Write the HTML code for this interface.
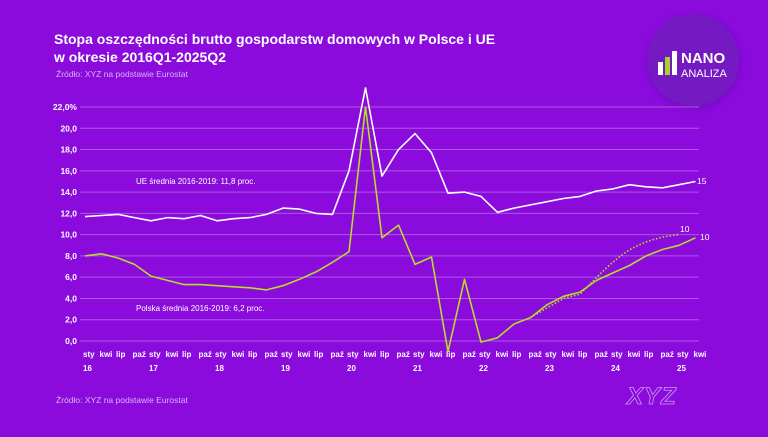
<!DOCTYPE html>
<html><head><meta charset="utf-8"><style>
html,body{margin:0;padding:0;background:#8a0bdc;}
body{width:768px;height:432px;overflow:hidden;font-family:"Liberation Sans",sans-serif;}
</style></head><body>
<svg id="s" width="768" height="432" viewBox="0 0 768 432" xmlns="http://www.w3.org/2000/svg" font-family="Liberation Sans, sans-serif">
<defs><filter id="sh" x="-30%" y="-30%" width="160%" height="160%"><feGaussianBlur stdDeviation="3"/></filter></defs>
<rect width="768" height="432" fill="#8a0bdc"/>
<text x="54" y="44" fill="#fff" font-size="14" font-weight="bold">Stopa oszczędności brutto gospodarstw domowych w Polsce i UE</text>
<text x="54" y="62" fill="#fff" font-size="14" font-weight="bold">w okresie 2016Q1-2025Q2</text>
<text x="56" y="77" fill="#d7b3f3" font-size="8.5">Źródło: XYZ na podstawie Eurostat</text>
<text x="56" y="403" fill="#d7b3f3" font-size="8.5">Źródło: XYZ na podstawie Eurostat</text>
<circle cx="694" cy="62" r="46" fill="#5a0a9a" opacity="0.5" filter="url(#sh)"/>
<circle cx="693" cy="60" r="46" fill="#7519c2"/>
<rect x="658" y="62" width="5" height="13" fill="#fff"/>
<rect x="665" y="57" width="5" height="18" fill="#a6d22a"/>
<rect x="672" y="51" width="5" height="24" fill="#fff"/>
<text x="681" y="63" fill="#fff" font-size="15" font-weight="bold">NANO</text>
<text x="681" y="77" fill="#fff" font-size="11">ANALIZA</text>
<text x="627" y="404" fill="none" stroke="#c99cf0" stroke-width="0.8" font-size="24" font-weight="bold" font-style="italic" letter-spacing="1">XYZ</text>
<g id="g"></g>
</svg>
<script>
const g=document.getElementById('g');
const Y=v=>341-v*10.636, X=i=>85+i*16.5;
let h='';
for(let v=0;v<=22;v+=2){const y=Y(v);h+=`<line x1="80" x2="699" y1="${y}" y2="${y}" stroke="#a959e6" stroke-width="1"/>`;
h+=`<text x="77" y="${y+3}" fill="#fff" font-size="8.5" font-weight="bold" text-anchor="end">${v.toFixed(1).replace('.',',')}${v==22?'%':''}</text>`;}
const ms=['sty','kwi','lip','paź'];
for(let i=0;i<38;i++){h+=`<text x="${X(i)-2}" y="357" fill="#fff" font-size="8" font-weight="bold">${ms[i%4]}</text>`;
if(i%4==0)h+=`<text x="${X(i)-2}" y="371" fill="#fff" font-size="8" font-weight="bold">${16+i/4}</text>`;}
const eu=[11.7,11.8,11.9,11.6,11.3,11.6,11.5,11.8,11.3,11.5,11.6,11.9,12.5,12.4,12.0,11.9,16.0,23.8,15.5,18.0,19.5,17.7,13.9,14.0,13.6,12.1,12.5,12.8,13.1,13.4,13.6,14.1,14.3,14.7,14.5,14.4,14.7,15.0];
const pl=[8.0,8.2,7.8,7.2,6.1,5.7,5.3,5.3,5.2,5.1,5.0,4.8,5.2,5.8,6.5,7.4,8.4,22.0,9.7,10.9,7.2,7.9,-1.0,5.8,-0.1,0.3,1.6,2.2,3.4,4.2,4.6,5.7,6.4,7.1,8.0,8.6,9.0,9.7];
const pts=a=>a.map((v,i)=>X(i).toFixed(1)+','+Y(v).toFixed(1)).join(' ');
h+=`<polyline points="${pts(eu)}" fill="none" stroke="#fff" stroke-width="1.6" stroke-linejoin="round"/>`;
h+=`<polyline points="${pts(pl)}" fill="none" stroke="#b6dc2c" stroke-width="1.6" stroke-linejoin="round"/>`;
h+=`<path d="M${X(27)},${Y(2.2)} L${X(29)},${Y(4.0)} L${X(30)},${Y(4.4)} C${X(32)},${Y(7.5)} ${X(33)},${Y(9.5)} ${X(36)},${Y(10)}" fill="none" stroke="#b6dc2c" stroke-width="1.6" stroke-dasharray="1.5 2"/>`;
h+=`<text x="697" y="184" fill="#fff" font-size="8.5">15</text>`;
h+=`<text x="680" y="232" fill="#fff" font-size="8.5">10</text>`;
h+=`<text x="700" y="240" fill="#fff" font-size="8.5">10</text>`;
h+=`<text x="136" y="184" fill="#fff" font-size="8">UE średnia 2016-2019: 11,8 proc.</text>`;
h+=`<text x="136" y="311" fill="#fff" font-size="8">Polska średnia 2016-2019: 6,2 proc.</text>`;
g.innerHTML=h;
</script>
</body></html>
